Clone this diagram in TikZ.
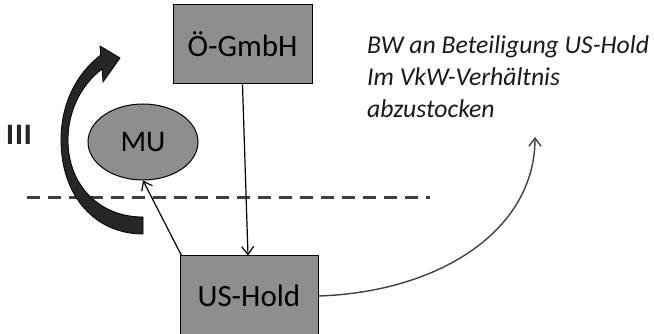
\documentclass[tikz,border=0pt]{standalone}
\usepackage{fontspec}
\setmainfont{Carlito}
\newfontfamily\labelfont{Open Sans}
\usetikzlibrary{arrows.meta,shapes.geometric}

\definecolor{boxgray}{HTML}{8E8E8E}
\definecolor{linegray}{HTML}{404040}
\definecolor{arrowdark}{HTML}{262626}

\tikzset{
  entity/.style={draw=black, line width=1pt, fill=boxgray, rectangle,
    inner sep=0pt, font=\fontsize{31}{36}\selectfont, text=black},
  partner/.style={draw=black, line width=1pt, fill=boxgray, ellipse,
    inner sep=0pt, font=\fontsize{30}{36}\selectfont, text=black},
  link/.style={draw=black, line width=1.2pt,
    -{Straight Barb[length=8pt,width=12pt,line width=1.2pt]}},
  flow/.style={draw=linegray, line width=1.4pt,
    -{Straight Barb[length=8pt,width=12pt,line width=1.4pt]}},
  note/.style={font=\fontsize{25.7}{32}\selectfont\itshape, text=black!90,
    align=left, inner sep=0pt},
}

\begin{document}
\begin{tikzpicture}[x=1pt,y=-1pt]
  \useasboundingbox (0,0) rectangle (654,334);

  % dashed border line
  \coordinate (dl) at (27,198);
  \coordinate (dr) at (430,198);
  \draw[linegray, line width=3pt, dash pattern=on 12.5pt off 8.5pt] (dl) -- (dr);

  % companies
  \node[entity, minimum width=139pt, minimum height=79pt] (og) at (242.5,44.5) {Ö-GmbH};
  \node[entity, minimum width=138pt, minimum height=80pt] (us) at (249,296) {US-Hold};
  \node[partner, minimum width=110pt, minimum height=76pt] (mu) at (143,142) {MU};

  % label of the turning arrow
  \node[font=\labelfont\fontsize{27}{30}\selectfont\bfseries, text=black!85, inner sep=0pt] (three) at (19,135) {III};

  % broad curved arrow
  \fill[arrowdark, draw=black, line width=0.8pt]
    (143,234) .. controls (95,234) and (61,196) .. (61,140)
    .. controls (61,104) and (76,74) .. (100.7,55)
    -- (100,46) -- (120,58) -- (103,82) -- (102.2,69)
    .. controls (82,84) and (68,110) .. (68,140)
    .. controls (68,186) and (100,217) .. (143,217) -- cycle;

  % connectors
  \draw[link] (og.south) -- ([xshift=-1pt]us.north);
  \draw[link] ([xshift=2pt]us.north west) -- (mu.south);

  \coordinate (noteend) at (535,137);
  \draw[flow] (us.east) .. controls (440,292) and (535,230) .. (noteend);

  % note, anchored at the baseline of its last line
  \node[note, anchor=base west] (txt) at (367,118)
    {BW an Beteiligung US-Hold\\Im VkW-Verhältnis\\abzustocken};
\end{tikzpicture}
\end{document}
